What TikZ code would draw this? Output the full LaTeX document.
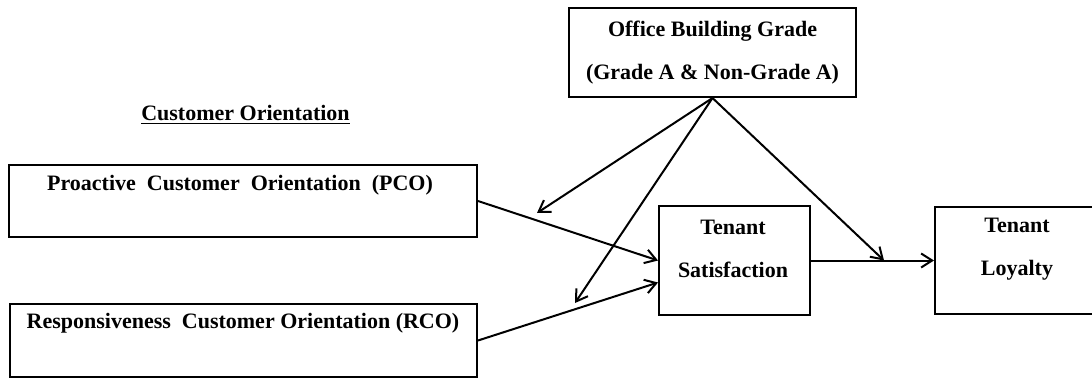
\documentclass[tikz,border=0pt]{standalone}
\usepackage{fontspec}
\setmainfont{Liberation Serif}
\usepackage{tikz}
\usetikzlibrary{arrows.meta, positioning, calc}

\begin{document}
\begin{tikzpicture}[x=0.5pt, y=-0.5pt,
    box/.style={draw, line width=1pt, inner sep=0pt},
    boxtext/.style={font=\bfseries\fontsize{11}{21.5}\selectfont, align=center, inner sep=0pt},
    link/.style={-{Straight Barb[length=5.5pt, width=7pt]}, line width=1pt}]
  \useasboundingbox (0,0) rectangle (1092,380);

  % boxes
  \node[box, boxtext, minimum width=143.5pt, minimum height=44.5pt] (grade) at (712.5,52.5)
    {Office Building Grade\\(Grade A \& Non-Grade A)};
  \node[box, minimum width=234pt, minimum height=36pt] (pco) at (243,201) {};
  \node[box, minimum width=233.5pt, minimum height=36.5pt] (rco) at (243.5,340.5) {};
  \node[box, minimum width=75.5pt, minimum height=54.5pt] (sat) at (734.5,260.5) {};
  \node[box, minimum width=95pt, minimum height=53.5pt, anchor=west] (loy) at (934,260.5) {};

  % texts
  \node[boxtext] (cotitle) at (245.5,115) {\underline{Customer Orientation}};
  \node[boxtext] (pcotext) at (240,185) {Proactive\ \ Customer\ \ Orientation\ \ (PCO)};
  \node[boxtext] (rcotext) at (243,323) {Responsiveness\ \ Customer Orientation (RCO)};
  \node[boxtext] (sattext) at (733,248.5) {Tenant\\Satisfaction};
  \node[boxtext] (loytext) at (1017,249.5) {Tenant\\Loyalty};

  % main paths
  \draw[link] (pco.east) -- (sat.west);
  \draw[link] (rco.east) -- ([yshift=-11pt]sat.west);
  \draw[link] (sat.east) -- (loy.west);

  % moderating paths
  \coordinate (modpco) at (537,213);
  \coordinate (modrco) at (575,303);
  \coordinate (modloy) at (884,260.5);
  \draw[link] (grade.south) -- (modpco);
  \draw[link] (grade.south) -- (modrco);
  \draw[link] (grade.south) -- (modloy);
\end{tikzpicture}
\end{document}
